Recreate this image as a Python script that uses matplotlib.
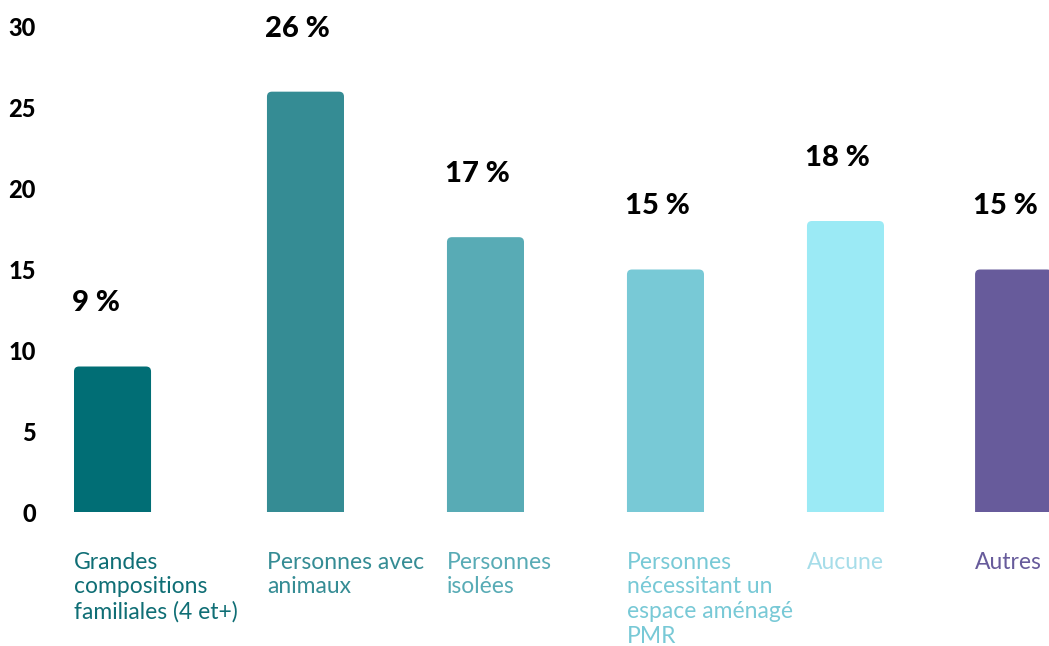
import matplotlib
matplotlib.use("Agg")
import matplotlib.pyplot as plt
from matplotlib.patches import FancyBboxPatch

# Donnees
categories = [
    "Grandes\ncompositions\nfamiliales (4 et+)",
    "Personnes avec\nanimaux",
    "Personnes\nisolées",
    "Personnes\nnécessitant un\nespace aménagé\nPMR",
    "Aucune",
    "Autres",
]
valeurs = [9, 26, 17, 15, 18, 15]
etiquettes = ["9 %", "26 %", "17 %", "15 %", "18 %", "15 %"]
y_ticks = [0, 5, 10, 15, 20, 25, 30]

# Mise en page / styles
couleurs = ["#016e75", "#358c94", "#58abb5", "#78c9d6", "#9beaf5", "#675b9b"]
couleurs_texte = ["#0f6e75", "#358c94", "#58abb5", "#78c9d6", "#a6dde9", "#675b9b"]
gauche = [0.15, 1.222, 2.222, 3.222, 4.222, 5.156]
largeur = 0.428

W, H, DPI = 1049, 646, 100
fig = plt.figure(figsize=(W / DPI, H / DPI), dpi=DPI)
ax = fig.add_axes([47 / W, 134 / H, 1 - 47 / W, (512 - 27) / H])
ax.set_xlim(0, 1002 / 180)
ax.set_ylim(0, 30)

# rayon des coins arrondis (5 px)
px_x = 180.0
px_y = (512 - 27) / 30.0
r = 5 / px_x

for x0, v, c in zip(gauche, valeurs, couleurs):
    p = FancyBboxPatch((x0, -2), largeur, v + 2,
                       boxstyle=f"round,pad=0,rounding_size={r}",
                       mutation_aspect=px_x / px_y,
                       facecolor=c, edgecolor="none")
    ax.add_patch(p)

for x0, v, t in zip(gauche, valeurs, etiquettes):
    ax.text(x0 - 0.01, v + 3.1, t, ha="left", va="bottom", fontsize=21,
            fontweight="black", family="Lato", color="black")

for x0, lab, c in zip(gauche, categories, couleurs_texte):
    ax.text(x0, -2.45, lab, ha="left", va="top", fontsize=16.5, family="Lato",
            color=c, clip_on=False, linespacing=1.22)

ax.set_yticks(y_ticks)
ax.set_yticklabels([str(t) for t in y_ticks], fontsize=17, fontweight="black",
                   family="Lato")
ax.tick_params(axis="y", length=0, pad=8)
ax.set_xticks([])
for s in ax.spines.values():
    s.set_visible(False)

fig.savefig("out.png", dpi=DPI)
